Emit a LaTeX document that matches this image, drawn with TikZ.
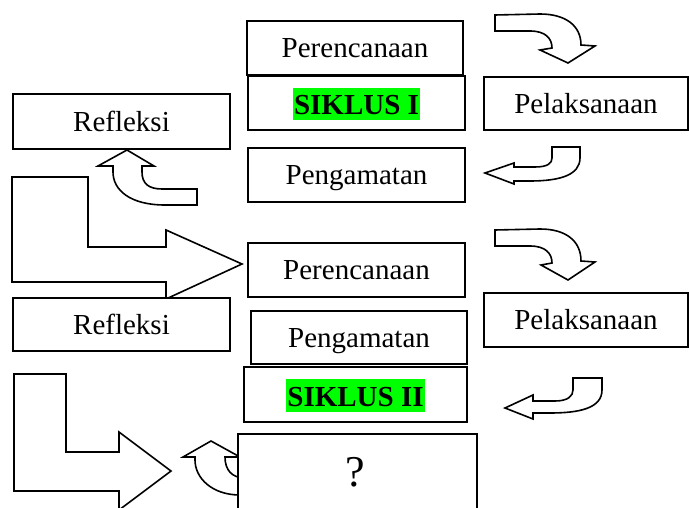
\documentclass[tikz,border=0pt]{standalone}
\usepackage{fontspec}
\setmainfont{Liberation Serif}
\definecolor{hlgreen}{RGB}{0,255,0}
\begin{document}
\begin{tikzpicture}[x=1pt,y=-1pt,
  box/.style={draw=black,fill=white,line width=1.8pt,inner sep=0pt,
    font=\fontsize{29}{34}\selectfont,text height=19.2pt,text depth=0pt},
  blockarrow/.style={draw=black,fill=white,line width=1.6pt,line join=miter},
  hl/.style={fill=hlgreen,inner xsep=1pt,inner ysep=0pt,
    font=\fontsize{29}{34}\selectfont\bfseries,text height=27pt,text depth=5.5pt}]
\useasboundingbox (0,0) rectangle (689,508);

% block arrows
% Perencanaan -> Pelaksanaan (cycle I)
\draw[blockarrow] (495,15) -- (540,14) .. controls (566,14) and (581,26) .. (581,45)
  -- (595,46) -- (568,63) -- (540,50) -- (552,48)
  .. controls (552,38) and (545,31) .. (530,31) -- (495,31) -- cycle;
% Pelaksanaan -> Pengamatan (cycle I)
\draw[blockarrow] (552,147) -- (580,147) -- (580,158)
  .. controls (580,175) and (560,181) .. (530,181) -- (514,181) -- (514,184)
  -- (485,173) -- (514,163) -- (514,167) -- (535,167)
  .. controls (548,167) and (552,163) .. (552,158) -- cycle;
% Pengamatan -> Refleksi (cycle I)
\draw[blockarrow] (127,150) -- (154,166) -- (142,166) -- (142,172)
  .. controls (142,183) and (148,189) .. (162,189) -- (197,189) -- (197,205)
  -- (165,205) .. controls (130,205) and (113,190) .. (113,172)
  -- (113,166) -- (98,166) -- cycle;
% Refleksi -> Perencanaan (cycle II)
\draw[blockarrow] (12,177) -- (88,177) -- (88,247) -- (166,247) -- (166,230)
  -- (242,264) -- (166,299) -- (166,282) -- (12,282) -- cycle;
% Perencanaan -> Pelaksanaan (cycle II)
\draw[blockarrow] (495,230) -- (540,229) .. controls (566,229) and (581,241) .. (581,261)
  -- (595,262) -- (568,280) -- (541,265) -- (552,263)
  .. controls (552,253) and (545,246) .. (530,246) -- (495,246) -- cycle;
% Pelaksanaan -> SIKLUS II
\draw[blockarrow] (573,378) -- (602,378) -- (602,390)
  .. controls (602,408) and (580,413) .. (550,413) -- (533,413) -- (533,419)
  -- (505,408) -- (533,395) -- (533,401) -- (555,401)
  .. controls (568,401) and (573,396) .. (573,390) -- cycle;
% bottom L arrow
\draw[blockarrow] (14,374) -- (66,374) -- (66,452) -- (119,452) -- (119,432)
  -- (171,471) -- (119,510) -- (119,491) -- (14,491) -- cycle;
% small up arrow under the ? box
\draw[blockarrow] (211,441) -- (240,457) -- (225,457)
  .. controls (225,470) and (232,478) .. (245,478) -- (260,478) -- (260,495)
  -- (240,495) .. controls (212,495) and (195,478) .. (195,460)
  -- (195,457) -- (183,457) -- cycle;

% boxes, cycle I
\node[box,minimum width=216pt,minimum height=54pt] (p1) at (355,48) {Perencanaan};
\node[box,minimum width=217pt,minimum height=54pt] (s1) at (356.5,103) {};
\node[hl] (s1t) at (356.5,104) {SIKLUS I};
\node[box,minimum width=217pt,minimum height=55pt] (r1) at (121.5,121.5) {Refleksi};
\node[box,minimum width=217pt,minimum height=54pt] (g1) at (356.5,175) {Pengamatan};
\node[box,minimum width=204pt,minimum height=53pt] (l1) at (586,103.5) {Pelaksanaan};

% boxes, cycle II
\node[box,minimum width=217pt,minimum height=54pt] (p2) at (356.5,270) {Perencanaan};
\node[box,minimum width=217pt,minimum height=53pt] (r2) at (121.5,324.5) {Refleksi};
\node[box,minimum width=216pt,minimum height=53pt] (g2) at (359,337.5) {Pengamatan};
\node[box,minimum width=223pt,minimum height=55pt] (s2) at (355.5,394.5) {};
\node[hl] (s2t) at (355.5,395.5) {SIKLUS II};
\node[box,minimum width=204pt,minimum height=54pt] (l2) at (586,320) {Pelaksanaan};
\node[box,minimum width=239pt,minimum height=90pt,anchor=north west] (q) at (237,433) {};
\node[font=\fontsize{44}{50}\selectfont,inner sep=0pt,text height=29.7pt,text depth=0pt]
  (qt) at (355,472) {?};
\end{tikzpicture}
\end{document}
